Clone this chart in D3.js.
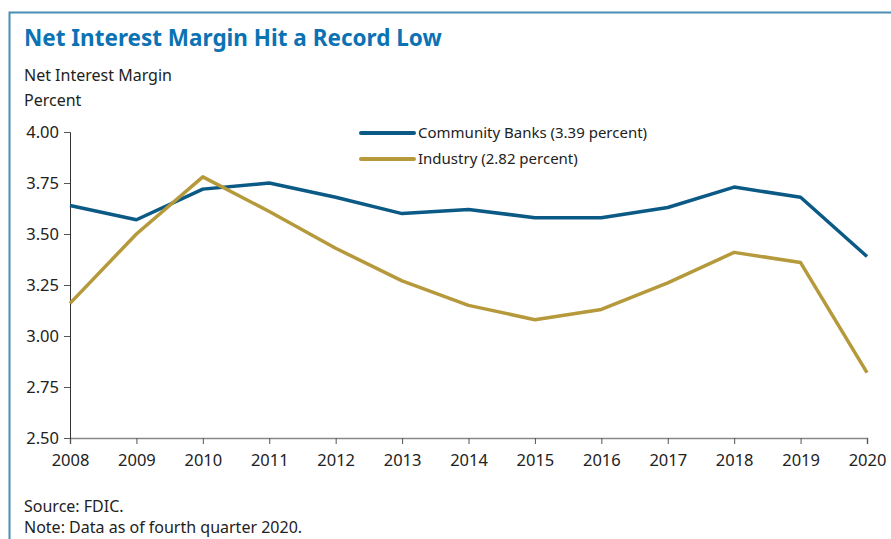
<!DOCTYPE html>
<html>
<head>
<meta charset="utf-8">
<script src="https://cdn.jsdelivr.net/npm/d3@7"></script>
<style>
  body { margin: 0; background: #fff; }
  text { font-family: "Source Sans Pro", "Noto Sans", sans-serif; }
</style>
</head>
<body>
<div class="chart"></div>
<script>
// data
var years = [2008, 2009, 2010, 2011, 2012, 2013, 2014, 2015, 2016, 2017, 2018, 2019, 2020];
var communityBanks = [3.64, 3.57, 3.72, 3.75, 3.68, 3.60, 3.62, 3.58, 3.58, 3.63, 3.73, 3.68, 3.39];
var industry = [3.16, 3.50, 3.78, 3.61, 3.43, 3.27, 3.15, 3.08, 3.13, 3.26, 3.41, 3.36, 2.82];
var yTicks = [2.50, 2.75, 3.00, 3.25, 3.50, 3.75, 4.00];
var seriesNames = ["Community Banks (3.39 percent)", "Industry (2.82 percent)"];
var seriesColors = ["#0b5a86", "#b5993b"];

var W = 891, H = 539;
var margin = {top: 132, right: 24, bottom: 101, left: 70},
    width = W - margin.left - margin.right,
    height = H - margin.top - margin.bottom;

var x = d3.scaleLinear()
    .domain([2008, 2020])
    .range([0, width]);
var y = d3.scaleLinear()
    .domain([2.5, 4.0])
    .range([height, 0]);

var svg = d3.select(".chart").append("svg")
    .attr("width", W)
    .attr("height", H);

// frame: top and left rules
svg.append("path")
    .attr("d", "M9.5," + H + "V12.5H" + W)
    .attr("fill", "none")
    .attr("stroke", "#4b8db4")
    .attr("stroke-width", 2);

svg.append("text")
    .attr("x", 24).attr("y", 46)
    .attr("fill", "#0b72b3")
    .attr("font-size", 22.5)
    .attr("font-weight", "bold")
    .text("Net Interest Margin Hit a Record Low");

svg.append("text").attr("x", 24).attr("y", 81)
    .attr("font-size", 16).attr("fill", "#222")
    .text("Net Interest Margin");
svg.append("text").attr("x", 24).attr("y", 106)
    .attr("font-size", 16).attr("fill", "#222")
    .text("Percent");

var g = svg.append("g")
    .attr("transform", "translate(" + margin.left + "," + margin.top + ")");

// x axis
var xAxis = g.append("g")
    .attr("transform", "translate(0," + height + ")")
    .call(d3.axisBottom(x).tickValues(years).tickFormat(d3.format("d")).tickSizeOuter(0).tickSize(6).tickPadding(10));
xAxis.select(".domain").attr("stroke", "#888").attr("stroke-width", 1.5);
xAxis.selectAll(".tick line").attr("stroke", "#555");
xAxis.selectAll("text").attr("font-size", 16.5).attr("fill", "#222")
    .style("font-family", "'Source Sans Pro', 'Noto Sans', sans-serif");

// y axis
var yAxis = g.append("g")
    .call(d3.axisLeft(y).tickValues(yTicks).tickFormat(d3.format(".2f")).tickSizeOuter(0).tickSize(6).tickPadding(5));
yAxis.select(".domain").attr("stroke", "#333");
yAxis.selectAll(".tick line").attr("stroke", "#555");
yAxis.selectAll("text").attr("font-size", 16.5).attr("fill", "#222")
    .style("font-family", "'Source Sans Pro', 'Noto Sans', sans-serif");

// lines
var line = d3.line()
    .x(function(d, i) { return x(years[i]); })
    .y(function(d) { return y(d); });

[communityBanks, industry].forEach(function(s, i) {
    g.append("path")
        .datum(s)
        .attr("fill", "none")
        .attr("stroke", seriesColors[i])
        .attr("stroke-width", 3.5)
        .attr("stroke-linejoin", "round")
        .attr("d", line);
});

// legend
var legend = svg.append("g").attr("transform", "translate(361,133)");
seriesNames.forEach(function(name, i) {
    var row = legend.append("g").attr("transform", "translate(0," + (i * 26) + ")");
    row.append("line")
        .attr("x1", 0).attr("x2", 53)
        .attr("stroke", seriesColors[i])
        .attr("stroke-width", 4)
        .attr("stroke-linecap", "round");
    row.append("text")
        .attr("x", 57).attr("dy", "0.35em")
        .attr("font-size", 15).attr("fill", "#222")
        .text(name);
});

// notes
svg.append("text").attr("x", 24).attr("y", 512)
    .attr("font-size", 16).attr("fill", "#222")
    .text("Source: FDIC.");
svg.append("text").attr("x", 24).attr("y", 533)
    .attr("font-size", 16).attr("fill", "#222")
    .text("Note: Data as of fourth quarter 2020.");
</script>
</body>
</html>
